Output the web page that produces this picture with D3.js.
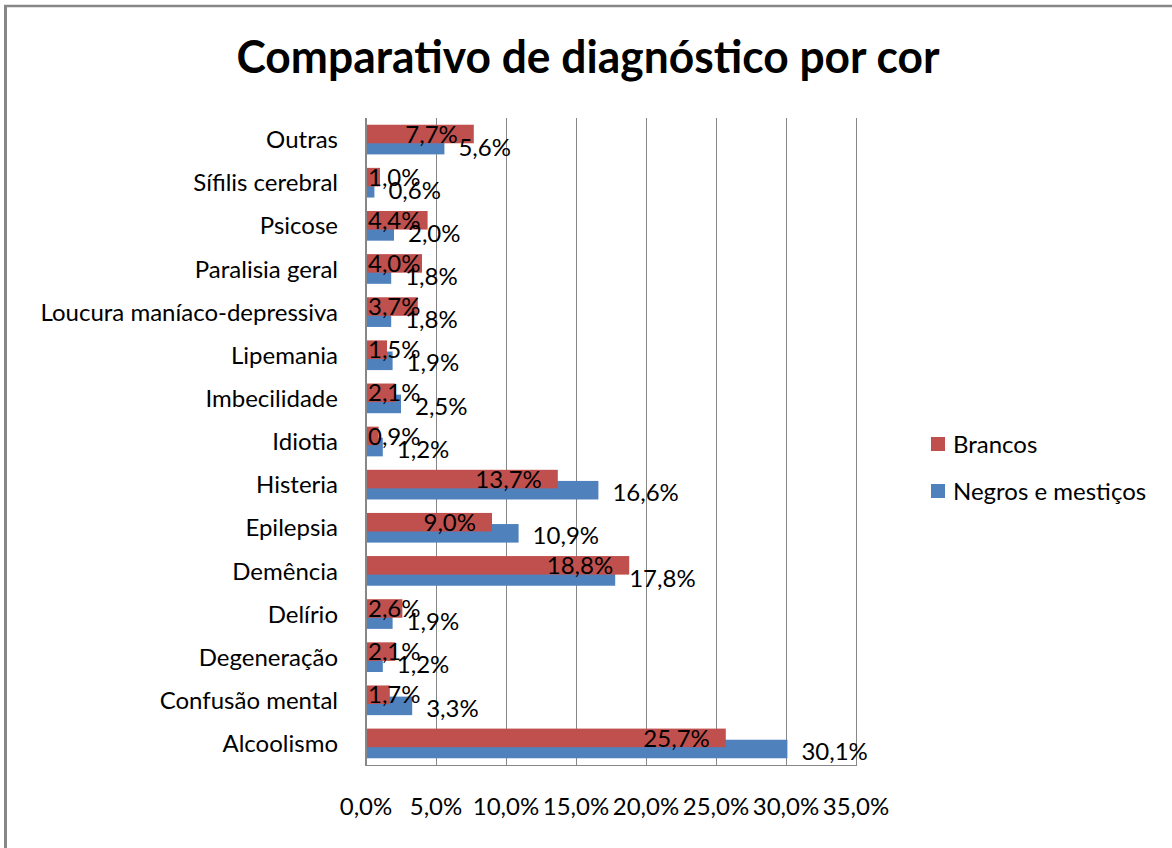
<!DOCTYPE html>
<html>
<head>
<meta charset="utf-8">
<script src="https://cdn.jsdelivr.net/npm/d3@7/dist/d3.min.js"></script>
<style>
  html, body { margin: 0; padding: 0; background: #ffffff; }
  svg { display: block; }
  text { font-family: Lato, "Noto Sans", sans-serif; fill: #000; }
</style>
</head>
<body>
<svg id="chart" width="1172" height="848"></svg>
<script>
// Diagnoses, listed from the bottom row of the chart to the top row
const categories = [
  "Alcoolismo", "Confusão mental", "Degeneração", "Delírio", "Demência",
  "Epilepsia", "Histeria", "Idiotia", "Imbecilidade", "Lipemania",
  "Loucura maníaco-depressiva", "Paralisia geral", "Psicose",
  "Sífilis cerebral", "Outras"
];
// Share of each diagnosis (%)
const brancos = [25.7, 1.7, 2.1, 2.6, 18.8, 9.0, 13.7, 0.9, 2.1, 1.5, 3.7, 4.0, 4.4, 1.0, 7.7];
const negros  = [30.1, 3.3, 1.2, 1.9, 17.8, 10.9, 16.6, 1.2, 2.5, 1.9, 1.8, 1.8, 2.0, 0.6, 5.6];
const xTicks  = [0, 5, 10, 15, 20, 25, 30, 35];
const seriesNames = ["Brancos", "Negros e mestiços"];

const RED = "#C0504D", BLUE = "#4F81BD", GRID = "#878787";

const svg = d3.select("#chart");
const W = 1172, H = 848;
const plot = { left: 366, right: 856, top: 118, bottom: 765 };

const fmt = v => d3.format(".1f")(v).replace(".", ",") + "%";

// Outer frame (top and left edges)
svg.append("line").attr("x1", 4).attr("x2", W).attr("y1", 6).attr("y2", 6)
  .attr("stroke", GRID).attr("stroke-width", 2.5);
svg.append("line").attr("x1", 5.5).attr("x2", 5.5).attr("y1", 5).attr("y2", H)
  .attr("stroke", GRID).attr("stroke-width", 3);

// Title
svg.append("text")
  .attr("x", 588).attr("y", 73)
  .attr("text-anchor", "middle")
  .attr("font-size", 45).attr("font-weight", "bold")
  .attr("textLength", 703).attr("lengthAdjust", "spacingAndGlyphs")
  .text("Comparativo de diagnóstico por cor");

const x = d3.scaleLinear().domain([0, 35]).range([plot.left, plot.right]);
const y = d3.scaleBand().domain(categories).range([plot.bottom, plot.top]);

// Vertical gridlines
svg.append("g").selectAll("line").data(xTicks).join("line")
  .attr("x1", d => x(d) + 0.5).attr("x2", d => x(d) + 0.5)
  .attr("y1", plot.top).attr("y2", plot.bottom)
  .attr("stroke", GRID).attr("stroke-width", 1);

// Bottom axis line
svg.append("line")
  .attr("x1", plot.left).attr("x2", plot.right + 1)
  .attr("y1", plot.bottom + 0.5).attr("y2", plot.bottom + 0.5)
  .attr("stroke", GRID).attr("stroke-width", 1);

// Bar geometry inside each band: two overlapping bars
const bw = y.bandwidth();
const barH = bw * 0.43;
const shift = barH * 0.6;
const pad = (bw - barH - shift) / 2;

const rows = categories.map((c, i) => ({ cat: c, b: brancos[i], n: negros[i] }));

// Negros e mestiços (drawn first, beneath)
svg.append("g").selectAll("rect").data(rows).join("rect")
  .attr("x", x(0))
  .attr("y", d => y(d.cat) + pad + shift)
  .attr("width", d => x(d.n) - x(0))
  .attr("height", barH)
  .attr("fill", BLUE);

// Brancos (on top)
svg.append("g").selectAll("rect").data(rows).join("rect")
  .attr("x", x(0))
  .attr("y", d => y(d.cat) + pad)
  .attr("width", d => x(d.b) - x(0))
  .attr("height", barH)
  .attr("fill", RED);

// Left axis line
svg.append("line")
  .attr("x1", plot.left).attr("x2", plot.left)
  .attr("y1", plot.top).attr("y2", plot.bottom + 1)
  .attr("stroke", GRID).attr("stroke-width", 2);

// Category labels
svg.append("g").selectAll("text").data(categories).join("text")
  .attr("x", 338)
  .attr("y", d => y(d) + bw / 2)
  .attr("dy", "0.36em")
  .attr("text-anchor", "end")
  .attr("font-size", 24)
  .text(d => d);

// Value labels: Negros e mestiços outside the bar end
svg.append("g").selectAll("text").data(rows).join("text")
  .attr("x", d => x(d.n) + 14)
  .attr("y", d => y(d.cat) + pad + shift + barH / 2 + 2)
  .attr("dy", "0.36em")
  .attr("font-size", 24)
  .text(d => fmt(d.n));

// Value labels: Brancos inside the bar end, kept right of the axis
svg.append("g").selectAll("text").data(rows).join("text")
  .attr("y", d => y(d.cat) + pad + barH / 2)
  .attr("dy", "0.36em")
  .attr("font-size", 24)
  .text(d => fmt(d.b))
  .each(function (d) {
    const w = this.getComputedTextLength();
    const left = Math.max(x(d.b) - 16 - w, x(0) + 2);
    d3.select(this).attr("x", left);
  });

// X tick labels
svg.append("g").selectAll("text").data(xTicks).join("text")
  .attr("x", d => x(d))
  .attr("y", 806)
  .attr("dy", "0.36em")
  .attr("text-anchor", "middle")
  .attr("font-size", 24)
  .text(d => fmt(d));

// Legend
const legend = svg.append("g");
const legendItems = [
  { name: seriesNames[0], color: RED, y: 444 },
  { name: seriesNames[1], color: BLUE, y: 491 }
];
legend.selectAll("rect").data(legendItems).join("rect")
  .attr("x", 931).attr("y", d => d.y - 7)
  .attr("width", 14).attr("height", 14)
  .attr("fill", d => d.color);
legend.selectAll("text").data(legendItems).join("text")
  .attr("x", 953).attr("y", d => d.y)
  .attr("dy", "0.36em")
  .attr("font-size", 24)
  .text(d => d.name);
</script>
</body>
</html>
